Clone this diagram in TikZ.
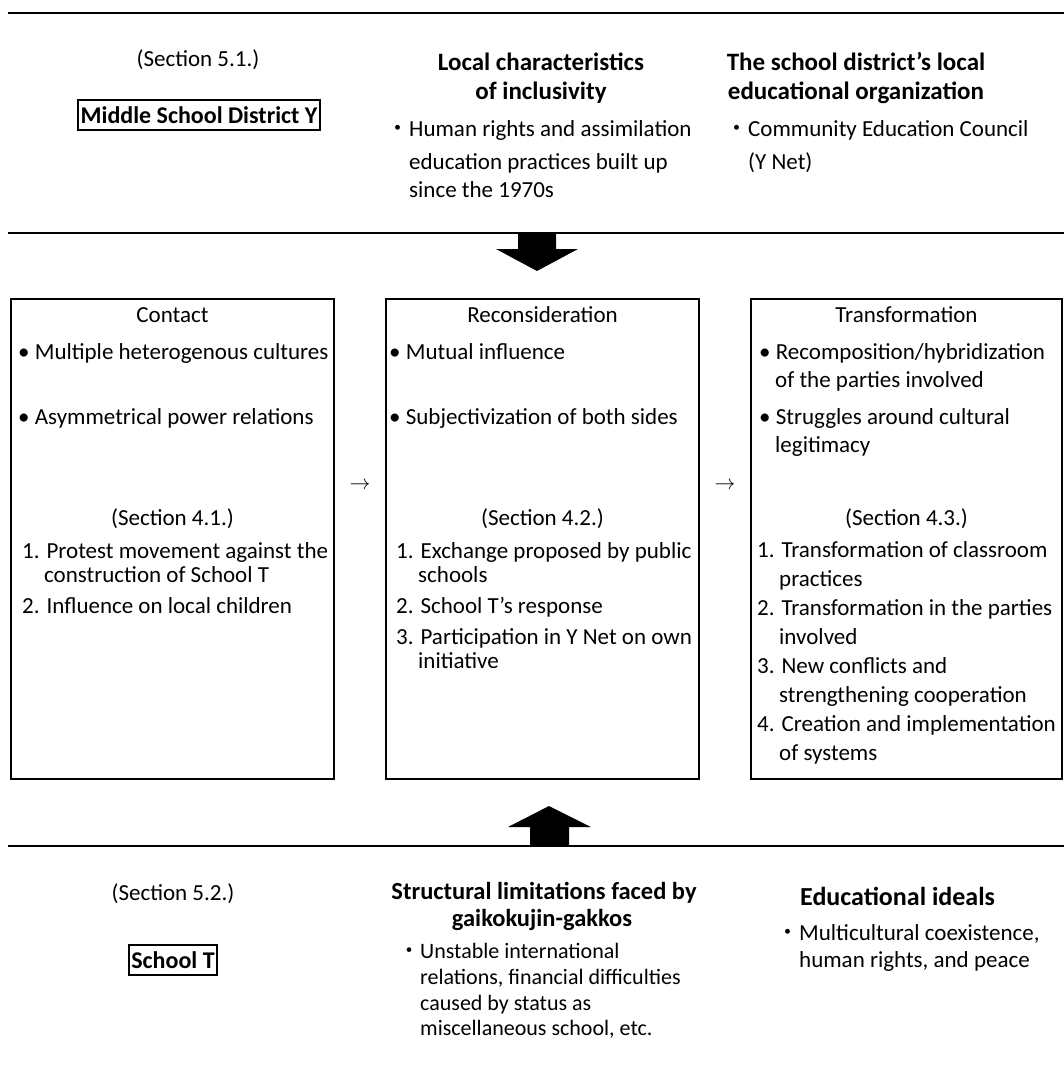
\documentclass[tikz,border=0pt]{standalone}
\usepackage{fontspec}
\setmainfont{Carlito}
\newfontfamily\cjk{Noto Sans CJK JP}
\begin{document}
\begin{tikzpicture}[x=1pt,y=-1pt,
  txt/.style={inner sep=0pt, anchor=base west, font=\fontsize{23}{28}\selectfont},
  txtc/.style={txt, anchor=base},
  small/.style={inner sep=0pt, anchor=base west, font=\fontsize{22}{26}\selectfont},
  head/.style={inner sep=0pt, anchor=base, font=\fontsize{25}{30}\selectfont\bfseries},
  headsmall/.style={inner sep=0pt, anchor=base, font=\fontsize{24.5}{29}\selectfont\bfseries},
  headbig/.style={inner sep=0pt, anchor=base west, font=\fontsize{26}{30}\selectfont\bfseries},
  panel/.style={draw, line width=1.8pt, inner sep=0pt},
  tag/.style={draw, line width=1.8pt, inner xsep=2.5pt, inner ysep=0pt, minimum height=30pt, font=\fontsize{24}{28}\selectfont\bfseries},
  rule/.style={line width=1.8pt},
  flow/.style={inner sep=0pt, anchor=base, font=\fontsize{20}{24}\selectfont},
  blockarrow/.style={fill=black},
]
\useasboundingbox (0,0) rectangle (1064,1074);

% rules
\draw[rule] (8,13) -- (1064,13);
\draw[rule] (8,233) -- (1064,233);
\draw[rule] (8,846) -- (1064,846);

% top section
\node[txtc] (sec51) at (198,66) {(Section 5.1.)};
\node[tag] (msd) at (199,115) {Middle School District Y};
\node[head] (lc1) at (541,70) {Local characteristics};
\node[head] (lc2) at (541,99) {of inclusivity};
\node[txt] (lcd) at (386,136) {\cjk ・};
\node[txt] (lcb1) at (409,136) {Human rights and assimilation};
\node[txt] (lcb2) at (409,169) {education practices built up};
\node[txt] (lcb3) at (409,197) {since the 1970s};
\node[head] (eo1) at (856,70) {The school district’s local};
\node[head] (eo2) at (856,99) {educational organization};
\node[txt] (eod) at (725,136) {\cjk ・};
\node[txt] (eob1) at (748,136) {Community Education Council};
\node[txt] (eob2) at (748,169) {(Y Net)};

% down arrow
\fill[blockarrow] (518,233) -- (518,249) -- (496,249) -- (537,271) -- (578,249) -- (556,249) -- (556,233) -- cycle;

% panels
\node[panel, minimum width=323pt, minimum height=480pt] (p1) at (172.5,539) {};
\node[panel, minimum width=313pt, minimum height=480pt] (p2) at (542.5,539) {};
\node[panel, minimum width=311pt, minimum height=480pt] (p3) at (906.5,539) {};

\node[flow] (f1) at (360,489) {$\rightarrow$};
\node[flow] (f2) at (725,489) {$\rightarrow$};

% panel 1
\node[txtc] (c1t) at (172.5,322) {Contact};
\node[txt] (c1a) at (18,359) {• Multiple heterogenous cultures};
\node[txt] (c1b) at (18,424) {• Asymmetrical power relations};
\node[txtc] (c1s) at (172.5,525) {(Section 4.1.)};
\node[txt] (c1i1) at (22,558) {1. Protest movement against the};
\node[txt] (c1i1b) at (44,582) {construction of School T};
\node[txt] (c1i2) at (22,613) {2. Influence on local children};

% panel 2
\node[txtc] (c2t) at (542.5,322) {Reconsideration};
\node[txt] (c2a) at (389,359) {• Mutual influence};
\node[txt] (c2b) at (389,424) {• Subjectivization of both sides};
\node[txtc] (c2s) at (542.5,525) {(Section 4.2.)};
\node[txt] (c2i1) at (396,558) {1. Exchange proposed by public};
\node[txt] (c2i1b) at (418,582) {schools};
\node[txt] (c2i2) at (396,613) {2. School T’s response};
\node[txt] (c2i3) at (396,644) {3. Participation in Y Net on own};
\node[txt] (c2i3b) at (418,668) {initiative};

% panel 3
\node[txtc] (c3t) at (906.5,322) {Transformation};
\node[txt] (c3a) at (759,359) {• Recomposition/hybridization};
\node[txt] (c3ab) at (775,387) {of the parties involved};
\node[txt] (c3b) at (759,424) {• Struggles around cultural};
\node[txt] (c3bb) at (775,452) {legitimacy};
\node[txtc] (c3s) at (906.5,525) {(Section 4.3.)};
\node[txt] (c3i1) at (757,557) {1. Transformation of classroom};
\node[txt] (c3i1b) at (779,586) {practices};
\node[txt] (c3i2) at (757,615) {2. Transformation in the parties};
\node[txt] (c3i2b) at (779,644) {involved};
\node[txt] (c3i3) at (757,673) {3. New conflicts and};
\node[txt] (c3i3b) at (779,702) {strengthening cooperation};
\node[txt] (c3i4) at (757,731) {4. Creation and implementation};
\node[txt] (c3i4b) at (779,760) {of systems};

% up arrow
\fill[blockarrow] (530,846) -- (530,827) -- (508,827) -- (549,806) -- (591,827) -- (569,827) -- (569,846) -- cycle;

% bottom section
\node[txtc] (sec52) at (173,900) {(Section 5.2.)};
\node[tag] (scht) at (173,960) {School T};
\node[headsmall] (sl1) at (544,899) {Structural limitations faced by};
\node[headsmall] (sl2) at (542,926) {gaikokujin-gakkos};
\node[small] (sld) at (398,958) {\cjk ・};
\node[small] (slb1) at (420,958) {Unstable international};
\node[small] (slb2) at (420,984) {relations, financial difficulties};
\node[small] (slb3) at (420,1010) {caused by status as};
\node[small] (slb4) at (420,1035) {miscellaneous school, etc.};
\node[headbig] (ei) at (800,905) {Educational ideals};
\node[txt] (eid) at (776,940) {\cjk ・};
\node[txt] (eib1) at (799,940) {Multicultural coexistence,};
\node[txt] (eib2) at (799,967) {human rights, and peace};
\end{tikzpicture}
\end{document}
